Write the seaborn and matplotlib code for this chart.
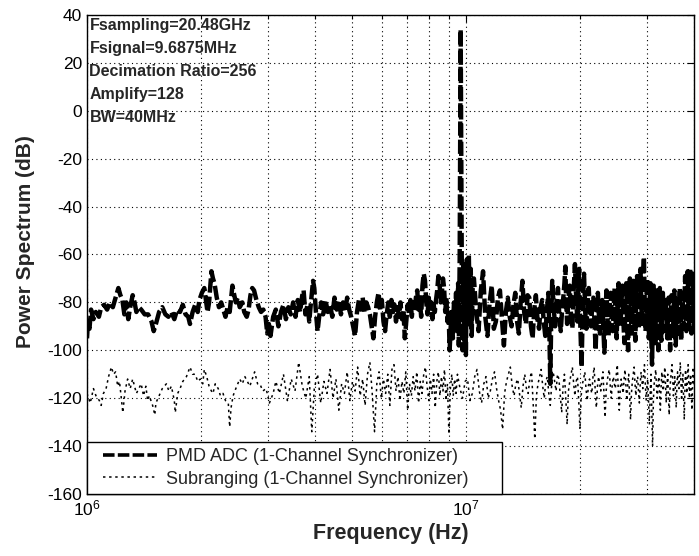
import numpy as np
import matplotlib
matplotlib.use("Agg")
import matplotlib.pyplot as plt
from matplotlib.lines import Line2D
from matplotlib.legend_handler import HandlerLine2D
import seaborn as sns

# PMD ADC spectrum (frequency in MHz, power in dB)
pmd_freq_mhz = [
    1.000, 1.005, 1.015, 1.025, 1.040, 1.055, 1.075, 1.090, 1.110, 1.130,
    1.150, 1.170, 1.190, 1.210, 1.225, 1.240, 1.255, 1.270, 1.285, 1.300,
    1.320, 1.335, 1.350, 1.370, 1.390, 1.420, 1.450, 1.480, 1.500, 1.520,
    1.550, 1.580, 1.610, 1.640, 1.670, 1.700, 1.730, 1.760, 1.790, 1.820,
    1.850, 1.870, 1.900, 1.930, 1.960, 1.980, 2.010, 2.040, 2.060, 2.080,
    2.100, 2.130, 2.150, 2.170, 2.200, 2.230, 2.260, 2.290, 2.320, 2.350,
    2.380, 2.420, 2.440, 2.470, 2.500, 2.530, 2.570, 2.600, 2.640, 2.670,
    2.700, 2.730, 2.760, 2.800, 2.840, 2.880, 2.920, 2.960, 2.990, 3.020,
    3.050, 3.100, 3.150, 3.200, 3.250, 3.300, 3.350, 3.400, 3.450, 3.500,
    3.550, 3.600, 3.650, 3.700, 3.730, 3.770, 3.820, 3.860, 3.900, 3.950,
    3.980, 4.020, 4.060, 4.100, 4.150, 4.200, 4.260, 4.320, 4.380, 4.440,
    4.500, 4.560, 4.620, 4.680, 4.740, 4.800, 4.860, 4.920, 4.980, 5.040,
    5.100, 5.160, 5.220, 5.280, 5.340, 5.400, 5.460, 5.520, 5.580, 5.640,
    5.700, 5.760, 5.820, 5.880, 5.940, 6.000, 6.060, 6.120, 6.180, 6.240,
    6.300, 6.360, 6.420, 6.480, 6.540, 6.600, 6.660, 6.720, 6.780, 6.840,
    6.900, 6.960, 7.020, 7.080, 7.140, 7.200, 7.260, 7.320, 7.380, 7.440,
    7.500, 7.560, 7.620, 7.680, 7.740, 7.800, 7.860, 7.920, 7.980, 8.040,
    8.100, 8.160, 8.220, 8.280, 8.340, 8.400, 8.460, 8.520, 8.580, 8.640,
    8.700, 8.760, 8.820, 8.880, 8.940, 9.000, 9.060, 9.120, 9.180, 9.240,
    9.300, 9.360, 9.420, 9.480, 9.540, 9.580, 9.630, 9.6875, 9.750, 9.800,
    9.850, 9.900, 9.950, 10.00, 10.06, 10.12, 10.18, 10.24, 10.30, 10.36,
    10.42,
    10.50, 10.65, 10.80, 10.95, 11.10, 11.25, 11.40, 11.55, 11.70, 11.85,
    12.00, 12.15, 12.30, 12.45, 12.60, 12.75, 12.90, 13.05, 13.20, 13.35,
    13.50, 13.65, 13.80, 13.95, 14.10, 14.25, 14.40, 14.55, 14.70, 14.85,
    15.00, 15.15, 15.30, 15.45, 15.60, 15.75, 15.90, 16.05, 16.20, 16.35,
    16.50, 16.60, 16.70, 16.80, 16.90, 17.05, 17.20, 17.35, 17.50, 17.65,
    17.80, 17.95, 18.10, 18.20, 18.30, 18.40, 18.50, 18.65, 18.80, 18.95,
    19.10, 19.25, 19.40, 19.55, 19.70, 19.80, 19.90, 20.05, 20.20, 20.35,
    20.50, 20.65, 20.80, 20.95, 21.10, 21.25, 21.40, 21.55, 21.70, 21.85,
    22.00, 22.15, 22.30, 22.45, 22.60, 22.75, 22.90, 23.05, 23.20, 23.35,
    23.50, 23.65, 23.80, 23.95, 24.10, 24.25, 24.40, 24.55, 24.70, 24.85,
    25.00, 25.15, 25.30, 25.45, 25.60, 25.75, 25.90, 26.05, 26.20, 26.35,
    26.50, 26.65, 26.80, 26.95, 27.10, 27.25, 27.40, 27.55, 27.70, 27.85,
    28.00, 28.15, 28.30, 28.45, 28.60, 28.75, 28.90, 29.05, 29.20, 29.35,
    29.50, 29.65, 29.80, 29.95, 30.10, 30.25, 30.40, 30.55, 30.70, 30.85,
    31.00, 31.15, 31.30, 31.45, 31.60, 31.75, 31.90, 32.05, 32.20, 32.35,
    32.50, 32.65, 32.80, 32.95, 33.10, 33.25, 33.40, 33.55, 33.70, 33.85,
    34.00, 34.15, 34.30, 34.45, 34.60, 34.75, 34.90, 35.05, 35.20, 35.35,
    35.50, 35.65, 35.80, 35.95, 36.10, 36.25, 36.40, 36.55, 36.70, 36.85,
    37.00, 37.15, 37.30, 37.45, 37.60, 37.75, 37.90, 38.05, 38.20, 38.35,
    38.50, 38.65, 38.80, 38.95, 39.10, 39.25, 39.40, 39.55, 39.70, 39.85,
    40.00, 40.15, 40.30,
]
pmd_db = [
    -95, -89, -91, -83, -87, -84, -86, -82, -81, -83,
    -80, -82, -78, -74, -77, -79, -85, -80, -87, -82,
    -77, -80, -84, -82, -83, -85, -85, -88, -92, -89,
    -84, -82, -85, -86, -84, -87, -83, -84, -81, -85,
    -86, -89, -84, -81, -84, -79, -76, -74, -79, -84,
    -80, -67, -70, -72, -78, -82, -80, -83, -86, -82,
    -84, -73, -76, -80, -78, -82, -80, -84, -86, -83,
    -77, -74, -75, -79, -82, -84, -83, -86, -93, -89,
    -94, -86, -83, -90, -84, -81, -87, -82, -85, -80,
    -86, -79, -84, -77, -75, -85, -81, -88, -80, -71,
    -74, -84, -92, -86, -80, -85, -79, -84, -81, -86,
    -78, -83, -79, -85, -80, -84, -78, -83, -86, -90,
    -94, -84, -79, -83, -78, -84, -80, -82, -85, -90,
    -95, -86, -80, -76, -83, -79, -88, -92, -85, -80,
    -86, -79, -84, -81, -88, -82, -86, -80, -87, -83,
    -95, -88, -81, -85, -79, -86, -80, -84, -78, -75,
    -83, -79, -86, -73, -68, -71, -80, -85, -78, -84,
    -80, -87, -81, -84, -79, -75, -69, -72, -80, -76,
    -70, -74, -84, -78, -88, -83, -100, -90, -84, -95,
    -80, -88, -76, -92, -72, -98, -62, 34, -60, -100,
    -64, -96, -66, -102, -62, -90, -60, -84, -66, -94,
    -74,
    -70, -84, -92, -75, -67, -86, -94, -80, -73, -91,
    -88, -78, -75, -87, -98, -84, -78, -86, -90, -81,
    -76, -88, -93, -80, -71, -84, -89, -77, -78, -90,
    -95, -83, -77, -87, -91, -82, -79, -88, -94, -84,
    -76, -90, -114, -86, -71, -82, -90, -79, -74, -86,
    -92, -83, -77, -72, -65, -80, -89, -78, -73, -86,
    -91, -75, -64, -79, -88, -74, -66, -90, -107, -82,
    -68, -84, -91, -80, -74, -85, -90, -81, -78, -88,
    -100, -85, -76, -86, -93, -83, -79, -90, -101, -84,
    -75, -87, -94, -82, -76, -86, -92, -81, -74, -88,
    -95, -80, -72, -84, -90, -79, -73, -88, -97, -82,
    -72, -90, -100, -81, -70, -85, -93, -79, -71, -87,
    -96, -80, -69, -84, -91, -77, -66, -82, -89, -70,
    -61, -80, -92, -78, -70, -86, -95, -80, -72, -94,
    -106, -85, -73, -88, -97, -83, -75, -90, -100, -84,
    -74, -87, -96, -82, -76, -86, -92, -84, -79, -88,
    -95, -85, -78, -90, -100, -86, -77, -87, -94, -83,
    -75, -88, -98, -85, -79, -87, -93, -82, -74, -88,
    -96, -84, -76, -85, -91, -79, -69, -83, -92, -77,
    -67, -80, -90, -76, -66, -82, -93, -78, -68, -84,
    -91, -79, -70,
]

# Subranging ADC spectrum
sub_freq_mhz = [
    1.000, 1.020, 1.040, 1.056, 1.078, 1.090, 1.105, 1.123, 1.140, 1.160,
    1.175, 1.190, 1.205, 1.218, 1.230, 1.243, 1.260, 1.280, 1.300, 1.320,
    1.335, 1.350, 1.370, 1.390, 1.410, 1.430, 1.446, 1.460, 1.490, 1.510,
    1.520, 1.550, 1.580, 1.620, 1.645, 1.670, 1.700, 1.710, 1.735, 1.760,
    1.790, 1.830, 1.870, 1.900, 1.930, 1.960, 1.990, 2.020, 2.040, 2.070,
    2.100, 2.130, 2.150, 2.180, 2.220, 2.250, 2.285, 2.320, 2.360, 2.380,
    2.400, 2.430, 2.470, 2.530, 2.570, 2.610, 2.650, 2.690, 2.730, 2.770,
    2.820, 2.860, 2.910, 2.970, 3.030, 3.100,
    3.15, 3.22, 3.30, 3.38, 3.46, 3.54, 3.62, 3.70, 3.78, 3.86,
    3.92, 3.98, 4.06, 4.14, 4.22, 4.30, 4.38, 4.46, 4.54, 4.62,
    4.70, 4.78, 4.86, 4.94, 5.02, 5.10, 5.18, 5.26, 5.34, 5.42,
    5.50, 5.58, 5.66, 5.74, 5.82, 5.90, 5.98, 6.06, 6.14, 6.22,
    6.30, 6.38, 6.46, 6.54, 6.62, 6.70, 6.78, 6.86, 6.94, 7.02,
    7.10, 7.18, 7.26, 7.34, 7.42, 7.50, 7.58, 7.66, 7.74, 7.82,
    7.90, 7.98, 8.06, 8.14, 8.22, 8.30, 8.38, 8.46, 8.54, 8.62,
    8.70, 8.78, 8.86, 8.94, 9.02, 9.10, 9.18, 9.26, 9.34, 9.42,
    9.50, 9.65, 9.80, 9.95, 10.10, 10.25, 10.40, 10.55, 10.70, 10.85,
    11.00, 11.15, 11.30, 11.45, 11.60, 11.75, 11.90, 12.05, 12.20, 12.35,
    12.50, 12.65, 12.80, 12.95, 13.10, 13.25, 13.40, 13.55, 13.70, 13.85,
    14.00, 14.15, 14.30, 14.45, 14.60, 14.75, 14.90, 15.05, 15.20, 15.35,
    15.50, 15.65, 15.80, 15.95, 16.10, 16.25, 16.40, 16.55, 16.70, 16.85,
    17.00, 17.15, 17.30, 17.45, 17.60, 17.75, 17.90, 18.05, 18.20, 18.35,
    18.50, 18.65, 18.80, 18.95, 19.10, 19.25, 19.40, 19.55, 19.70, 19.85,
    20.00, 20.15, 20.30, 20.45, 20.60, 20.75, 20.90, 21.05, 21.20, 21.35,
    21.50, 21.65, 21.80, 21.95, 22.10, 22.25, 22.40, 22.55, 22.70, 22.85,
    23.00, 23.15, 23.30, 23.45, 23.60, 23.75, 23.90, 24.05, 24.20, 24.35,
    24.50, 24.65, 24.80, 24.95, 25.10, 25.25, 25.40, 25.55, 25.70, 25.85,
    26.00, 26.15, 26.30, 26.45, 26.60, 26.75, 26.90, 27.05, 27.20, 27.35,
    27.50, 27.65, 27.80, 27.95, 28.10, 28.25, 28.40, 28.55, 28.70, 28.85,
    29.00, 29.15, 29.30, 29.45, 29.60, 29.75, 29.90, 30.05, 30.20, 30.35,
    30.50, 30.65, 30.80, 30.95, 31.10, 31.25, 31.40, 31.55, 31.70, 31.85,
    32.00, 32.15, 32.30, 32.45, 32.60, 32.75, 32.90, 33.05, 33.20, 33.35,
    33.50, 33.65, 33.80, 33.95, 34.10, 34.25, 34.40, 34.55, 34.70, 34.85,
    35.00, 35.15, 35.30, 35.45, 35.60, 35.75, 35.90, 36.05, 36.20, 36.35,
    36.50, 36.65, 36.80, 36.95, 37.10, 37.25, 37.40, 37.55, 37.70, 37.85,
    38.00, 38.15, 38.30, 38.45, 38.60, 38.75, 38.90, 39.05, 39.20, 39.35,
    39.50, 39.65, 39.80, 39.95, 40.10, 40.25, 40.40,
]
sub_db = [
    -118, -122, -116, -119, -121, -123, -118, -116, -111, -107,
    -110, -109, -115, -113, -119, -126, -117, -112, -116, -112,
    -115, -118, -116, -114, -119, -115, -121, -119, -123, -127,
    -122, -119, -116, -114, -117, -115, -121, -126, -118, -116,
    -113, -111, -107, -110, -110, -113, -112, -114, -108, -111,
    -115, -117, -118, -114, -116, -119, -118, -121, -122, -132,
    -124, -119, -116, -112, -114, -111, -113, -115, -112, -109,
    -114, -114, -117, -116, -122, -118,
    -113, -118, -110, -121, -112, -117, -105, -115, -120, -111,
    -134, -116, -110, -122, -113, -118, -108, -120, -112, -125,
    -114, -118, -109, -121, -113, -117, -107, -119, -112, -123,
    -110, -105, -118, -134, -114, -109, -120, -112, -118, -110,
    -123, -108, -106, -117, -111, -121, -113, -118, -109, -125,
    -114, -119, -111, -117, -109, -122, -113, -118, -110, -107,
    -115, -121, -112, -118, -110, -124, -113, -109, -119, -111,
    -117, -108, -121, -114, -135, -116, -110, -119, -112, -118,
    -110, -116, -120, -113, -112, -121, -118, -111, -108, -117,
    -122, -114, -111, -120, -117, -112, -109, -116, -121, -125,
    -133, -118, -113, -110, -107, -115, -119, -114, -112, -118,
    -124, -115, -110, -116, -118, -112, -109, -122, -137, -119,
    -114, -111, -108, -115, -120, -113, -111, -118, -123, -114,
    -109, -113, -117, -110, -112, -119, -126, -115, -110, -120,
    -131, -117, -113, -110, -107, -114, -119, -113, -111, -121,
    -133, -119, -114, -112, -109, -116, -121, -115, -112, -116,
    -118, -111, -107, -117, -124, -115, -111, -114, -117, -112,
    -109, -119, -128, -117, -113, -110, -108, -115, -120, -114,
    -111, -114, -116, -110, -106, -117, -125, -116, -112, -115,
    -118, -112, -108, -115, -121, -114, -110, -120, -129, -118,
    -113, -110, -107, -114, -119, -113, -111, -117, -122, -114,
    -109, -113, -116, -110, -106, -114, -121, -115, -112, -121,
    -131, -118, -110, -125, -140, -121, -114, -111, -108, -115,
    -120, -114, -111, -118, -125, -115, -109, -114, -117, -111,
    -107, -115, -122, -114, -110, -119, -127, -117, -112, -109,
    -106, -113, -119, -114, -111, -118, -124, -115, -109, -113,
    -116, -110, -105, -114, -121, -114, -110, -120, -129, -116,
    -108, -114, -118, -111, -106, -113, -120, -114, -110, -118,
    -125, -115, -107, -112, -115, -111, -109,
]

series_labels = ["PMD ADC (1-Channel Synchronizer)", "Subranging (1-Channel Synchronizer)"]
info_lines = ["Fsampling=20.48GHz", "Fsignal=9.6875MHz", "Decimation Ratio=256",
              "Amplify=128", "BW=40MHz"]
y_ticks = [-160, -140, -120, -100, -80, -60, -40, -20, 0, 20, 40]

sns.set_style("white")
plt.rcParams['font.family'] = ['Liberation Sans', 'DejaVu Sans']
plt.rcParams['mathtext.default'] = 'regular'
plt.rcParams['axes.unicode_minus'] = False

fig, ax = plt.subplots(figsize=(6.99, 5.56), dpi=100)
fig.subplots_adjust(left=87/699, right=694/699, top=1-15/556, bottom=1-494/556)

pmd_f = np.array(pmd_freq_mhz) * 1e6
sub_f = np.array(sub_freq_mhz) * 1e6

sns.lineplot(x=pmd_f, y=pmd_db, ax=ax, color='black', linewidth=3.2,
             linestyle=(0, (3.2, 0.9)), sort=False, estimator=None,
             label=series_labels[0])
sns.lineplot(x=sub_f, y=sub_db, ax=ax, color='black', linewidth=1.1,
             linestyle=(0, (1.6, 2.4)), sort=False, estimator=None,
             label=series_labels[1])

ax.set_xscale('log')
ax.set_xlim(1e6, 4e7)
ax.set_ylim(-160, 40)
ax.set_yticks(y_ticks)

ax.grid(True, which='major', color='black', linestyle=(0, (1, 3)), linewidth=0.8)
ax.grid(True, which='minor', axis='x', color='black', linestyle=(0, (1, 3)), linewidth=0.8)

for s in ax.spines.values():
    s.set_color('black')
    s.set_linewidth(1.0)
ax.tick_params(which='both', direction='in', top=True, right=True, colors='black',
               labelsize=12.5, width=0.8)
ax.tick_params(which='major', length=5)
ax.tick_params(which='minor', length=3)
ax.tick_params(axis='x', which='minor', labelbottom=False)

ax.set_xlabel('Frequency (Hz)', fontsize=15.5, fontweight='bold', labelpad=3)
ax.set_ylabel('Power Spectrum (dB)', fontsize=15, fontweight='bold')
ax.yaxis.set_label_coords(-0.086, 0.526)

ax.text(0.004, 0.994, "\n".join(info_lines), transform=ax.transAxes,
        ha='left', va='top', fontsize=11.5, fontweight='bold', linespacing=1.66)

# legend handles sit a bit in from the frame, as in the original
leg = ax.legend(loc='lower left', bbox_to_anchor=(0, 0, 415/607, 0.1), mode='expand',
                borderaxespad=0, fancybox=False, edgecolor='black', framealpha=1,
                fontsize=13, handlelength=3.5, handletextpad=0.55,
                borderpad=0.35, labelspacing=0.3,
                handler_map={Line2D: HandlerLine2D(xpad=0.55)})
leg.get_frame().set_linewidth(1.0)
for h in leg.get_lines():
    h.set_linewidth(2.6 if h.get_linewidth() > 2 else 1.1)

fig.savefig('out.png', dpi=100)
